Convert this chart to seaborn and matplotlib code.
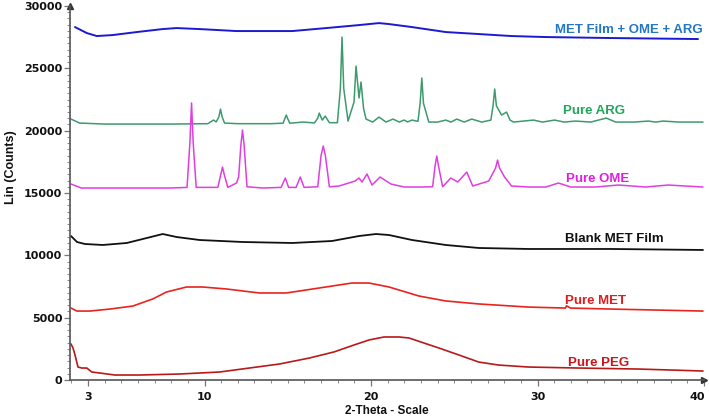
import matplotlib
matplotlib.use("Agg")
import matplotlib.pyplot as plt
import matplotlib.transforms as mtransforms
from matplotlib.ticker import MultipleLocator, FixedLocator
import seaborn as sns
import pandas as pd

# values (2-theta in degrees, counts)
blend_theta = [2.22, 2.93, 3.53, 4.49, 5.93, 7.49, 8.32, 9.70, 11.92, 15.27, 17.31,
               19.28, 20.48, 21.08, 22.46, 24.49, 26.47, 28.44, 30.48, 34.43, 39.64]
blend_counts = [28310, 27830, 27590, 27670, 27910, 28150, 28230, 28150, 27990, 27990, 28230,
                28470, 28630, 28550, 28310, 27910, 27750, 27590, 27510, 27430, 27350]

arg_theta = [1.98, 2.5, 4.0, 6.0, 8.0, 10.2, 10.54, 10.7, 10.86, 10.96, 11.06, 11.2, 12.0, 14.0,
             14.72, 14.82, 14.91, 15.0, 15.12, 15.93, 16.6, 16.8, 16.89, 17.07, 17.25, 17.5,
             17.98, 18.16, 18.26, 18.36, 18.62, 18.98, 19.10, 19.28, 19.40, 19.55, 19.70,
             20.1, 20.48, 20.90, 21.32, 21.7, 21.98, 22.2, 22.46, 22.82, 22.95, 23.05, 23.15,
             23.47, 24.0, 24.49, 24.8, 25.15, 25.6, 26.05, 26.65, 27.2, 27.33, 27.43, 27.53,
             27.84, 28.14, 28.35, 28.56, 29.76, 30.3, 31.02, 31.6, 32.28, 33.2, 34.13, 34.7,
             35.8, 36.65, 37.1, 37.54, 38.5, 39.94]
arg_counts = [20930, 20610, 20530, 20530, 20530, 20560, 20850, 20700, 21100, 21730, 21100, 20610,
              20560, 20560, 20600, 20950, 21250, 20950, 20600, 20690, 20620, 21000, 21410, 20850,
              21170, 20640, 20640, 23400, 27510, 23400, 20770, 22300, 25180, 22620, 23900, 21800,
              20930, 20690, 21090, 20690, 20930, 20690, 20850, 20700, 20850, 20750, 22200, 24220,
              22200, 20690, 20690, 20850, 20690, 20930, 20690, 20930, 20690, 20850, 22000, 23340,
              22000, 21250, 21490, 20850, 20690, 20850, 20690, 20850, 20690, 20770, 20690, 21010,
              20690, 20690, 20770, 20690, 20770, 20690, 20690]

ome_theta = [1.98, 2.6, 4.0, 6.0, 8.0, 8.95, 9.12, 9.22, 9.32, 9.5, 10.8, 10.98, 11.08, 11.18,
             11.4, 11.92, 12.05, 12.18, 12.28, 12.38, 12.55, 13.5, 14.6, 14.85, 15.05, 15.5,
             15.75, 15.98, 16.8, 17.0, 17.13, 17.26, 17.5, 18.08, 19.04, 19.28, 19.46, 19.76,
             20.06, 20.54, 21.20, 22.0, 23.0, 23.7, 23.85, 23.95, 24.05, 24.3, 24.79, 25.21,
             25.75, 26.11, 27.07, 27.48, 27.60, 27.72, 28.02, 28.44, 29.5, 30.5, 31.26, 32.0,
             33.5, 34.85, 36.5, 37.84, 39.94]
ome_counts = [15720, 15400, 15400, 15400, 15400, 15450, 19000, 22220, 19000, 15450, 15450, 16500,
              17080, 16500, 15450, 15800, 16300, 18800, 20050, 18800, 15500, 15400, 15450, 16200,
              15450, 15450, 16280, 15450, 15500, 18000, 18770, 18000, 15500, 15560, 15960, 16200,
              15880, 16520, 15640, 16280, 15720, 15480, 15480, 15500, 17200, 17960, 17200, 15500,
              16200, 15880, 16680, 15560, 15960, 17000, 17640, 17000, 16280, 15560, 15480, 15480,
              15800, 15480, 15480, 15640, 15480, 15640, 15480]

blank_theta = [1.98, 2.34, 2.81, 3.89, 5.33, 6.53, 7.49, 8.32, 9.70, 12.28, 15.27, 17.66,
               19.28, 20.30, 21.08, 22.46, 24.49, 26.47, 29.46, 34.43, 39.94]
blank_counts = [11550, 11070, 10910, 10830, 10990, 11390, 11710, 11470, 11230, 11070, 10990, 11150,
                11550, 11710, 11630, 11230, 10830, 10590, 10510, 10510, 10430]

met_theta = [1.98, 2.34, 3.11, 4.31, 5.69, 6.89, 7.72, 8.92, 9.88, 11.32, 13.29, 14.91, 16.89,
             18.86, 19.88, 21.08, 21.68, 22.87, 24.49, 26.47, 29.46, 31.68, 31.74, 31.98,
             34.43, 39.94]
met_counts = [5770, 5530, 5530, 5690, 5930, 6500, 7060, 7460, 7460, 7300, 6980, 6980, 7380,
              7780, 7780, 7460, 7220, 6740, 6340, 6100, 5850, 5770, 5950, 5770,
              5690, 5530]

peg_theta = [1.98, 2.10, 2.22, 2.40, 2.63, 2.93, 3.23, 3.71, 4.61, 6.11, 8.50, 10.90, 12.69,
             14.49, 16.29, 17.78, 18.98, 19.88, 20.78, 21.68, 22.28, 23.17, 24.07, 25.27,
             26.47, 27.66, 29.46, 32.46, 36.05, 39.94]
peg_counts = [2890, 2570, 2010, 1040, 960, 960, 640, 560, 400, 400, 480, 640, 960,
              1280, 1760, 2250, 2810, 3210, 3450, 3450, 3370, 2970, 2570, 2010,
              1440, 1200, 1040, 960, 880, 720]

series_names = ["MET Film + OME + ARG", "Pure ARG", "Pure OME", "Blank MET Film", "Pure MET", "Pure PEG"]
series_theta = [blend_theta, arg_theta, ome_theta, blank_theta, met_theta, peg_theta]
series_counts = [blend_counts, arg_counts, ome_counts, blank_counts, met_counts, peg_counts]

line_colors = ["#1a1ad0", "#3d9a6e", "#e03ee0", "#111111", "#e8241e", "#b81a1a"]
text_colors = ["#2477c4", "#20a65a", "#e020e0", "#111111", "#e01c1c", "#c8161b"]
line_widths = [1.4, 1.1, 1.1, 1.3, 1.2, 1.2]
label_pos = [(39.9, 28070, "right"), (33.4, 21570, "center"), (33.6, 16120, "center"),
             (34.6, 11310, "center"), (33.5, 6340, "center"), (33.65, 1360, "center")]

sns.set_style("ticks")
plt.rcParams["font.family"] = ["Liberation Sans", "DejaVu Sans"]

fig = plt.figure(figsize=(7.09, 4.18), dpi=100)
ax = fig.add_axes([70 / 709, 38 / 418, 634 / 709, 374 / 418])

for name, th, ct, lc, lw in zip(series_names, series_theta, series_counts, line_colors, line_widths):
    df = pd.DataFrame({"theta": th, "counts": ct})
    sns.lineplot(data=df, x="theta", y="counts", ax=ax, color=lc, lw=lw,
                 sort=False, estimator=None)

for name, (lx, ly, ha), tc in zip(series_names, label_pos, text_colors):
    ax.text(lx, ly, name, color=tc, ha=ha, va="center", fontsize=9.5, fontweight="bold")

ax.set_xlim(1.92, 40.0)
ax.set_ylim(0, 30000)
ax.xaxis.set_major_locator(FixedLocator([3, 10, 20, 30, 40]))
ax.xaxis.set_minor_locator(MultipleLocator(1))
ax.yaxis.set_major_locator(MultipleLocator(5000))
ax.yaxis.set_minor_locator(MultipleLocator(500))

for sp in ["top", "right"]:
    ax.spines[sp].set_visible(False)
for sp in ["left", "bottom"]:
    ax.spines[sp].set_color("#555555")
    ax.spines[sp].set_linewidth(1.2)

ax.tick_params(which="major", direction="out", length=4, width=0.9, color="#777777")
ax.tick_params(which="minor", direction="out", length=2.5, width=0.7, color="#888888")
ax.tick_params(axis="x", which="major", pad=5)
ax.tick_params(axis="y", which="major", pad=1.5)
for lab in ax.get_xticklabels() + ax.get_yticklabels():
    lab.set_family("DejaVu Sans")
    lab.set_fontweight("bold")
    lab.set_fontsize(8)
    lab.set_color("#111111")

# the "40" sits right at the figure edge, nudge it in a little
last = ax.get_xticklabels()[-1]
last.set_transform(last.get_transform() + mtransforms.ScaledTranslation(-5 / 72, 0, fig.dpi_scale_trans))

ax.set_xlabel("2-Theta - Scale", fontsize=8.5, fontweight="bold", color="#111111")
ax.set_ylabel("Lin (Counts)", fontsize=9, fontweight="bold", color="#111111")
ax.xaxis.set_label_coords(0.50, -0.066)
ax.yaxis.set_label_coords(-0.084, 0.57)

ax.plot(1, 0, marker=">", color="#333333", markersize=4, transform=ax.transAxes, clip_on=False)
ax.plot(0, 1, marker="^", color="#333333", markersize=4, transform=ax.transAxes, clip_on=False)

fig.savefig("out.png", dpi=100)
plt.close(fig)
